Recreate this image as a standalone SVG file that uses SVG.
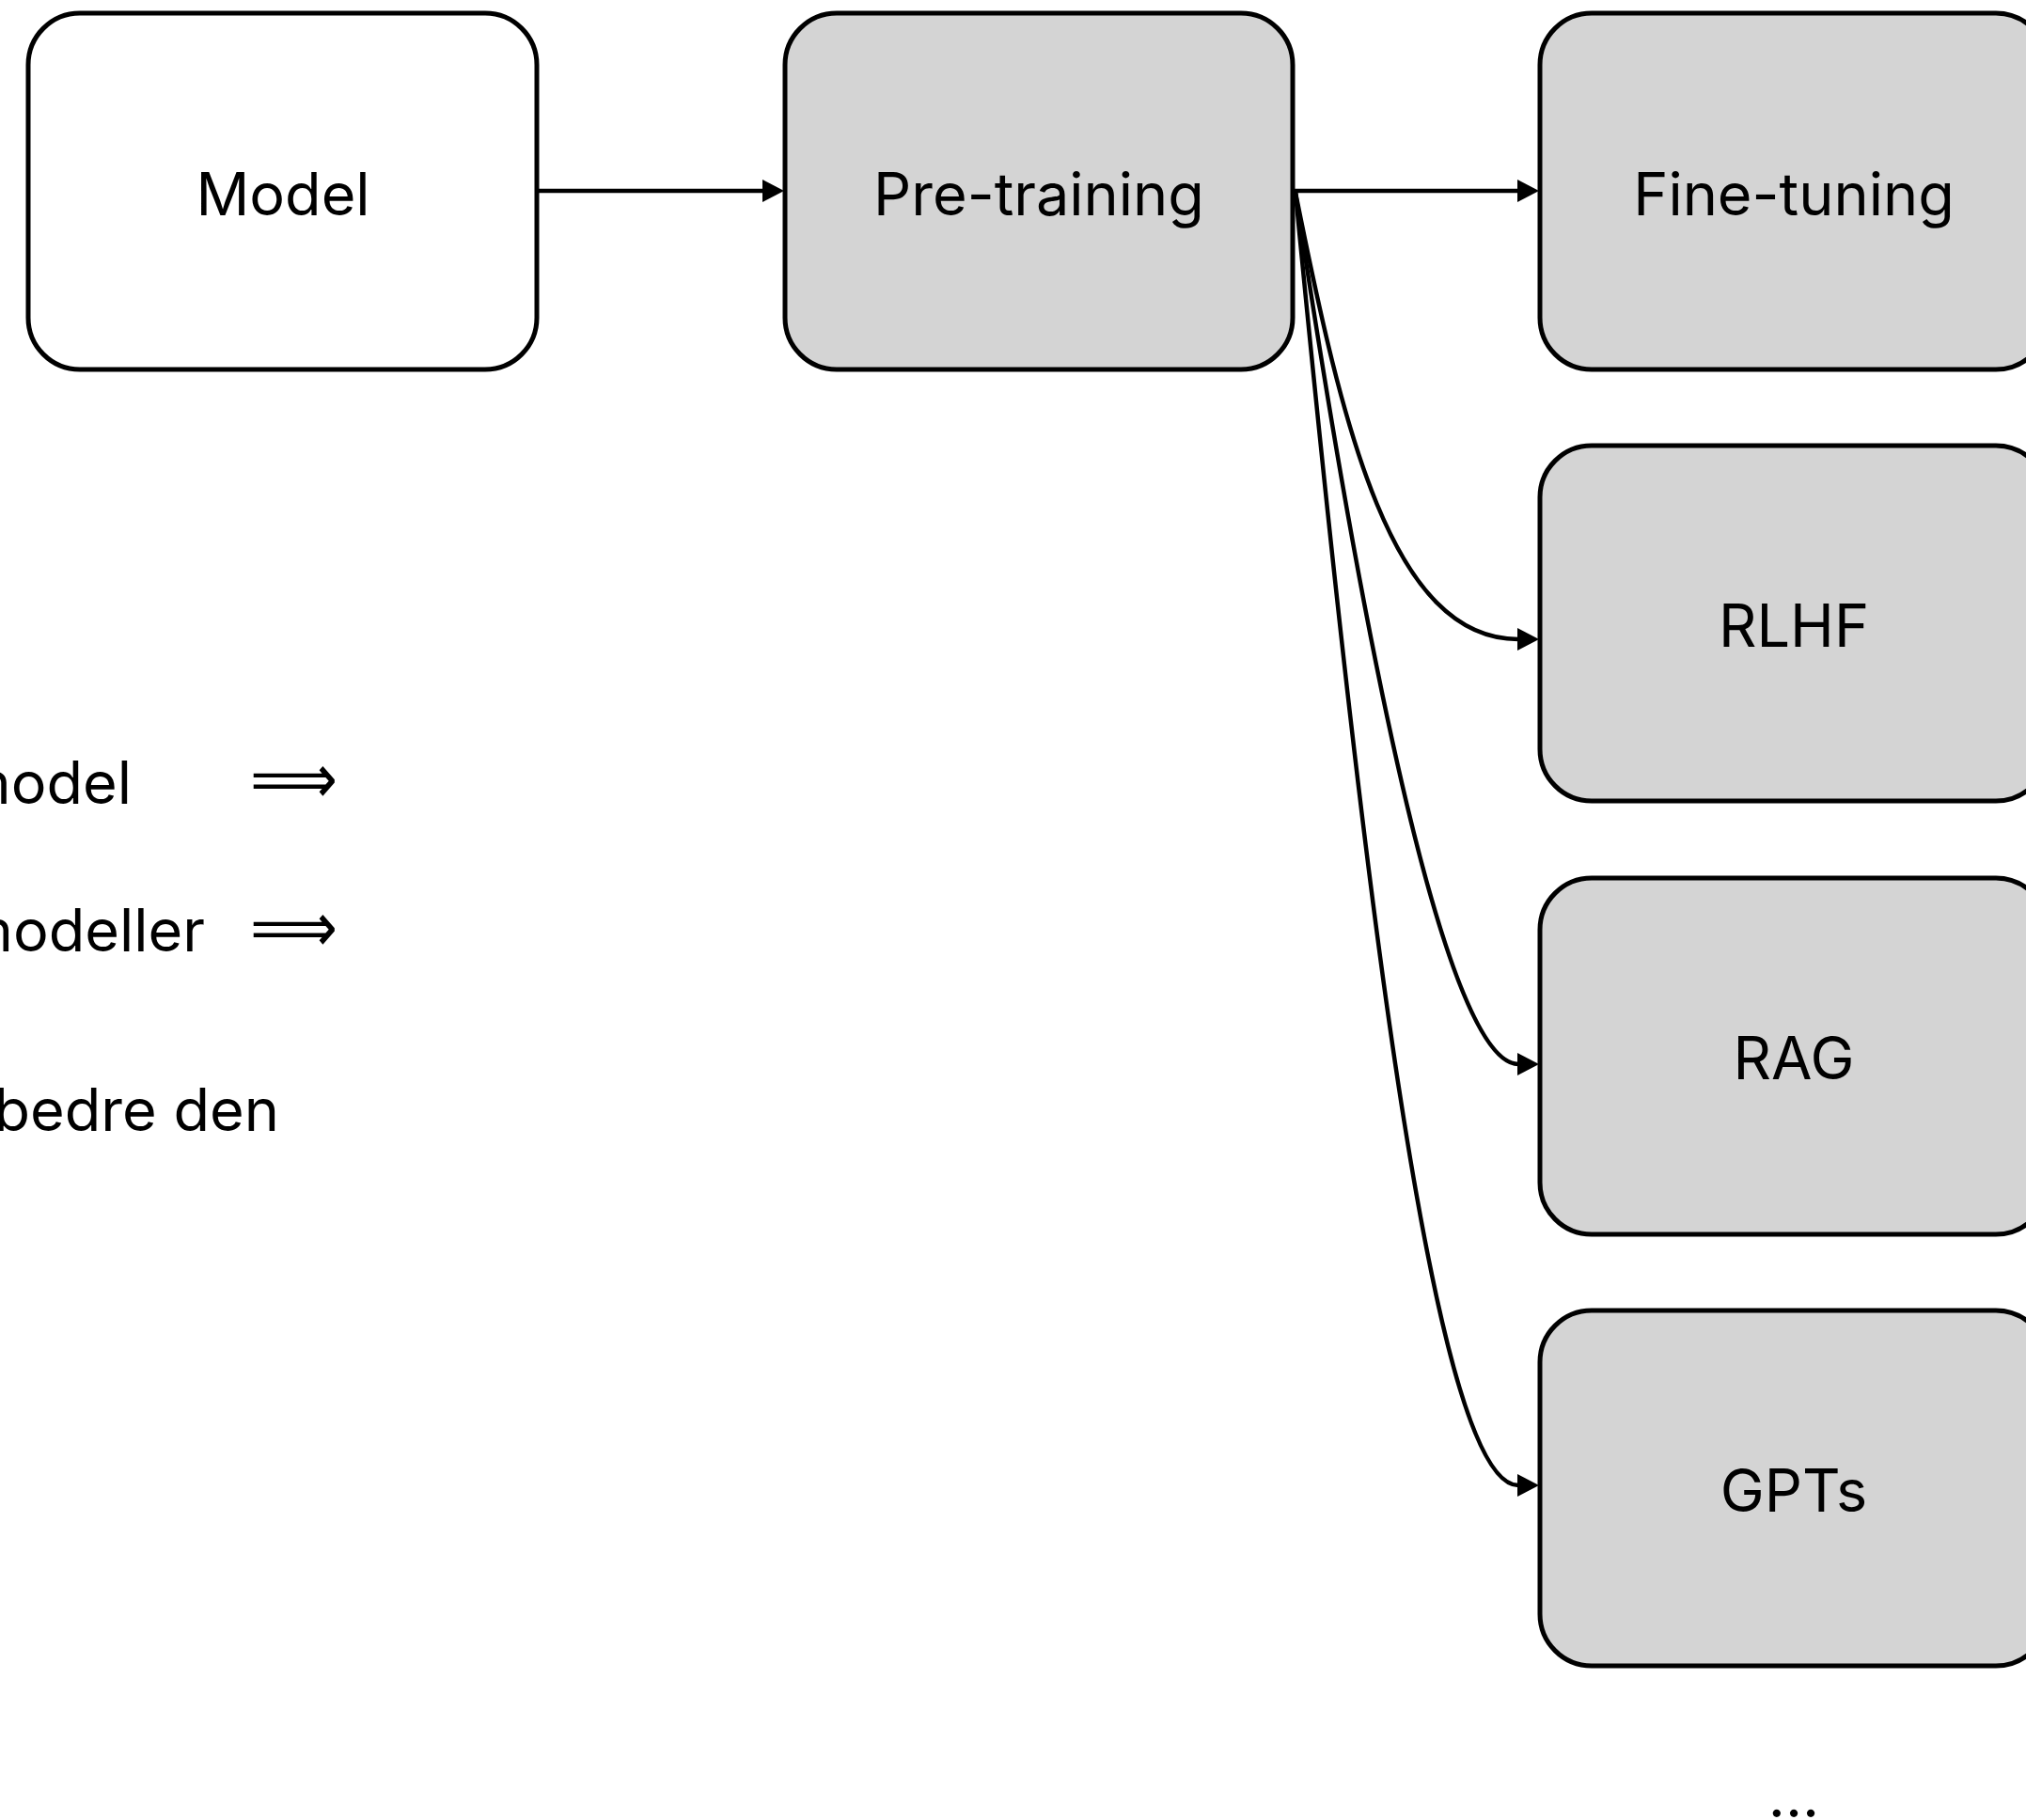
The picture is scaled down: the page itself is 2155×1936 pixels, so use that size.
<svg xmlns="http://www.w3.org/2000/svg" width="2155" height="1936" viewBox="0 0 2155 1936">
  <style>
    .box { stroke: #000; stroke-width: 5; }
    .white { fill: #ffffff; }
    .gray { fill: #d4d4d4; }
    .lbl { font-family: Inter, "Liberation Sans", Arial, sans-serif; font-size: 63px; fill: #000; text-anchor: middle; }
    .side { font-family: Inter, "Liberation Sans", Arial, sans-serif; font-size: 63px; fill: #000; text-anchor: end; }
    .imp { font-family: "DejaVu Sans", sans-serif; font-size: 74px; fill: #000; }
    .edge { fill: none; stroke: #000; stroke-width: 4.5; marker-end: url(#arr); }
  </style>
  <defs>
    <marker id="arr" markerUnits="userSpaceOnUse" markerWidth="24" markerHeight="24" viewBox="0 0 24 24" refX="1" refY="12" orient="auto">
      <path d="M0,0 L23,12 L0,24 z" fill="#000"/>
    </marker>
  </defs>
  <rect width="2155" height="1936" fill="#ffffff"/>

  <g id="connectors">
    <path class="edge" d="M572,203 L812,203"/>
    <path class="edge" d="M1377,203 L1615,203"/>
    <path class="edge" d="M1378,205 C1428,455 1480,680 1615,680"/>
    <path class="edge" d="M1378,205 C1453,705 1540,1132 1615,1132"/>
    <path class="edge" d="M1378,205 C1455,1005 1530,1580 1615,1580"/>
  </g>

  <g id="node-model">
    <rect class="box white" x="30" y="14" width="541" height="379" rx="55" ry="55"/>
    <text class="lbl" x="301" y="229">Model</text>
  </g>
  <g id="node-pretraining">
    <rect class="box gray" x="835" y="14" width="540" height="379" rx="55" ry="55"/>
    <text class="lbl" x="1105" y="229">Pre-training</text>
  </g>
  <g id="node-finetuning">
    <rect class="box gray" x="1638" y="14" width="540" height="379" rx="55" ry="55"/>
    <text class="lbl" x="1908" y="229">Fine-tuning</text>
  </g>
  <g id="node-rlhf">
    <rect class="box gray" x="1638" y="474" width="540" height="378" rx="55" ry="55"/>
    <text class="lbl" x="1908" y="688">RLHF</text>
  </g>
  <g id="node-rag">
    <rect class="box gray" x="1638" y="934" width="540" height="379" rx="55" ry="55"/>
    <text class="lbl" x="1908" y="1148">RAG</text>
  </g>
  <g id="node-gpts">
    <rect class="box gray" x="1638" y="1394" width="540" height="378" rx="55" ry="55"/>
    <text class="lbl" x="1908" y="1608">GPTs</text>
  </g>
  <g id="ellipsis">
    <text class="lbl" x="1908" y="1933">...</text>
  </g>

  <g id="side-text">
    <text class="side" x="140" y="855">model</text>
    <text class="imp" x="266" y="854" textLength="93" lengthAdjust="spacingAndGlyphs">⟹</text>
    <text class="side" x="218" y="1012">modeller</text>
    <text class="imp" x="266" y="1012" textLength="93" lengthAdjust="spacingAndGlyphs">⟹</text>
    <text class="side" x="297" y="1203">bedre den</text>
  </g>
</svg>
